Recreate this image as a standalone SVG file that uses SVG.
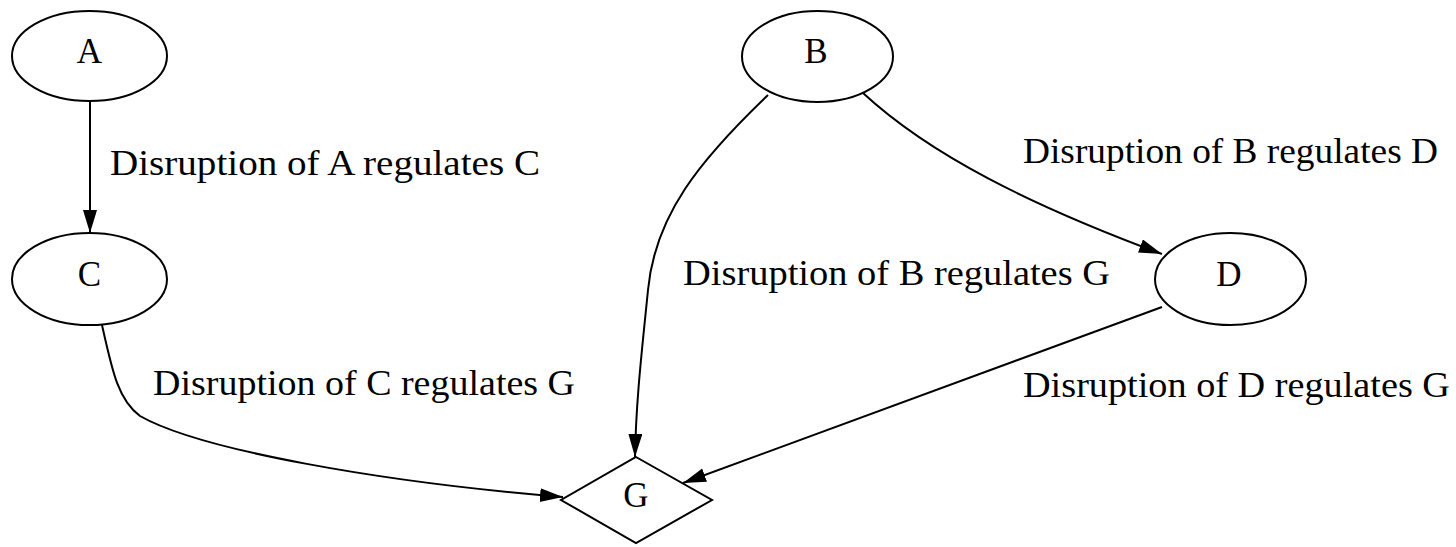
<svg xmlns="http://www.w3.org/2000/svg" width="1456" height="547" viewBox="0 0 1456 547">
<style>
.node{fill:none;stroke:#000;stroke-width:2}
.edge{fill:none;stroke:#000;stroke-width:2}
.nl{font-family:"Liberation Serif","Times New Roman",serif;font-size:35px;fill:#000;text-anchor:middle}
.el{font-family:"Liberation Serif","Times New Roman",serif;font-size:35px;fill:#000}
</style>
<defs>
<marker id="arr" markerUnits="userSpaceOnUse" markerWidth="24" markerHeight="16" refX="23" refY="7" orient="auto">
<path d="M0,0 L23,7 L0,14 z" fill="#000"/>
</marker>
</defs>
<rect width="1456" height="547" fill="#fff"/>
<g id="connectors">
<path class="edge" d="M90,101 L90,233" marker-end="url(#arr)"/>
<path class="edge" d="M863,93 C930,155 1030,205 1162,254" marker-end="url(#arr)"/>
<path class="edge" d="M768,95 C700,160 655,215 648,290 C642,350 636,400 635,457" marker-end="url(#arr)"/>
<path class="edge" d="M102,325 C112,370 118,400 140,416 C200,450 380,482 563,497" marker-end="url(#arr)"/>
<path class="edge" d="M1162,307 L683,483" marker-end="url(#arr)"/>
<text class="el" x="110" y="175" textLength="430" lengthAdjust="spacingAndGlyphs">Disruption of A regulates C</text>
<text class="el" x="1023" y="163" textLength="415" lengthAdjust="spacingAndGlyphs">Disruption of B regulates D</text>
<text class="el" x="683" y="285" textLength="427" lengthAdjust="spacingAndGlyphs">Disruption of B regulates G</text>
<text class="el" x="153" y="395" textLength="422" lengthAdjust="spacingAndGlyphs">Disruption of C regulates G</text>
<text class="el" x="1023" y="397" textLength="427" lengthAdjust="spacingAndGlyphs">Disruption of D regulates G</text>
</g>
<g id="node-A">
<ellipse class="node" cx="89.5" cy="56" rx="77.5" ry="45"/>
<text class="nl" x="89.5" y="63">A</text>
</g>
<g id="node-B">
<ellipse class="node" cx="817.5" cy="56.5" rx="75.5" ry="45.5"/>
<text class="nl" x="816" y="63">B</text>
</g>
<g id="node-C">
<ellipse class="node" cx="89.5" cy="279" rx="77.5" ry="46"/>
<text class="nl" x="89.5" y="286">C</text>
</g>
<g id="node-D">
<ellipse class="node" cx="1230.5" cy="279" rx="75.5" ry="46"/>
<text class="nl" x="1229" y="286">D</text>
</g>
<g id="node-G">
<polygon class="node" points="636,457 712,500 636,543 561,500"/>
<text class="nl" x="636" y="507">G</text>
</g>
</svg>
